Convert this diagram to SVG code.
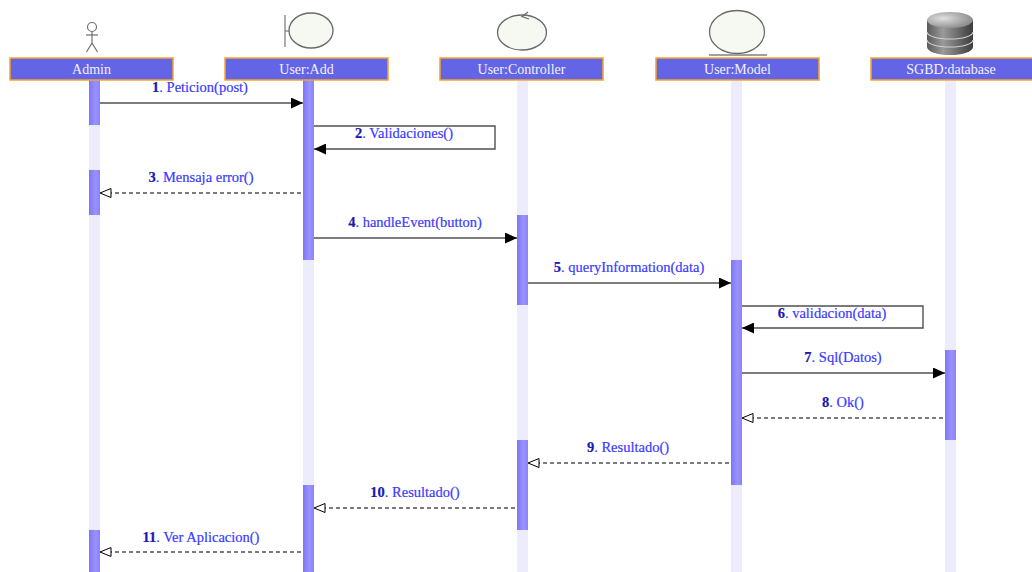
<svg xmlns="http://www.w3.org/2000/svg" width="1032" height="572" viewBox="0 0 1032 572">
<defs>
<style>
.hdr{fill:#6464e6;stroke:#f5a623;stroke-width:1.5}
.hdrt{font-family:'Liberation Serif','DejaVu Serif',serif;font-size:14px;fill:#f2f2ff;text-anchor:middle}
.lane{fill:#ececfc}
.act{fill:url(#ag)}
.msg{stroke:#505050;stroke-width:1.4;fill:none}
.ret{stroke:#505050;stroke-width:1.4;fill:none;stroke-dasharray:4,3}
.lbl{font-family:'Liberation Serif','DejaVu Serif',serif;font-size:14.5px;fill:#3a3aff;text-anchor:middle;stroke:#3a3aff;stroke-width:0.2}
.num{font-weight:bold;fill:#1a1ab0;stroke:#1a1ab0}
.ico{fill:#f6f9f2;stroke:#6a6a6a;stroke-width:1.3}
</style>
<linearGradient id="ag" x1="0" y1="0" x2="1" y2="0">
<stop offset="0" stop-color="#7f76f6"/>
<stop offset="0.6" stop-color="#9a92ff"/>
<stop offset="1" stop-color="#8a82fb"/>
</linearGradient>
<linearGradient id="dbg" x1="0" y1="0" x2="1" y2="0">
<stop offset="0" stop-color="#5a5a5a"/>
<stop offset="0.35" stop-color="#9a9a9a"/>
<stop offset="1" stop-color="#3c3c3c"/>
</linearGradient>
<radialGradient id="dbt" cx="0.35" cy="0.4" r="0.8">
<stop offset="0" stop-color="#e0e0e0"/>
<stop offset="1" stop-color="#7a7a7a"/>
</radialGradient>
<marker id="fa" markerWidth="13" markerHeight="11" refX="12" refY="5.5" orient="auto" markerUnits="userSpaceOnUse">
<path d="M0,0 L12,5.5 L0,11 Z" fill="#000"/>
</marker>
<marker id="oa" markerWidth="13" markerHeight="11" refX="12" refY="5.5" orient="auto" markerUnits="userSpaceOnUse">
<path d="M1,1 L12,5.5 L1,10 Z" fill="#fff" stroke="#000" stroke-width="1"/>
</marker>
</defs>
<rect width="1032" height="572" fill="#fff"/>

<g id="admin">
<rect class="lane" x="89" y="80" width="11" height="492"/>
<rect class="act" x="89" y="80" width="11" height="45"/>
<rect class="act" x="89" y="170" width="11" height="45"/>
<rect class="act" x="89" y="530" width="11" height="42"/>
<g fill="none" stroke="#707070" stroke-width="1.2">
<circle cx="92" cy="27" r="4.5"/>
<line x1="92" y1="31.5" x2="92" y2="43"/>
<line x1="86" y1="35" x2="98" y2="35"/>
<line x1="92" y1="43" x2="86.5" y2="52"/>
<line x1="92" y1="43" x2="97.5" y2="52"/>
</g>
<rect class="hdr" x="10" y="58" width="163" height="22"/>
<text class="hdrt" x="91.5" y="73.5" font-family="Liberation Serif, serif">Admin</text>
</g>

<g id="useradd">
<rect class="lane" x="303" y="80" width="11" height="492"/>
<rect class="act" x="303" y="80" width="11" height="180"/>
<rect class="act" x="303" y="485" width="11" height="87"/>
<line x1="285" y1="15" x2="285" y2="47" stroke="#808080" stroke-width="1.3"/>
<line x1="285" y1="31" x2="290" y2="31" stroke="#808080" stroke-width="1.3"/>
<ellipse class="ico" cx="311" cy="30.5" rx="22" ry="17.5" stroke="#909090"/>
<rect class="hdr" x="225" y="58" width="163" height="22"/>
<text class="hdrt" x="306.5" y="73.5" font-family="Liberation Serif, serif">User:Add</text>
</g>

<g id="usercontroller">
<rect class="lane" x="517" y="80" width="11" height="492"/>
<rect class="act" x="517" y="215" width="11" height="90"/>
<rect class="act" x="517" y="440" width="11" height="90"/>
<ellipse class="ico" cx="522" cy="32.5" rx="24.5" ry="17.5"/>
<path d="M528,12 L522,16.5 L529,19" fill="none" stroke="#6a6a6a" stroke-width="1.3"/>
<rect class="hdr" x="440" y="58" width="163" height="22"/>
<text class="hdrt" x="521.5" y="73.5" font-family="Liberation Serif, serif">User:Controller</text>
</g>

<g id="usermodel">
<rect class="lane" x="731" y="80" width="11" height="492"/>
<rect class="act" x="731" y="260" width="11" height="225"/>
<ellipse class="ico" cx="737" cy="32" rx="27.5" ry="21.5"/>
<line x1="709" y1="55" x2="767" y2="55" stroke="#808080" stroke-width="1.5"/>
<rect class="hdr" x="656" y="58" width="163" height="22"/>
<text class="hdrt" x="737.5" y="73.5" font-family="Liberation Serif, serif">User:Model</text>
</g>

<g id="sgbd">
<rect class="lane" x="945" y="80" width="11" height="492"/>
<rect class="act" x="945" y="350" width="11" height="90"/>
<path d="M927,20 L927,47 A23,8 0 0 0 973,47 L973,20 Z" fill="url(#dbg)"/>
<path d="M927,32 A23,7 0 0 0 973,32" fill="none" stroke="#cfcfcf" stroke-width="1.2"/>
<path d="M927,40 A23,7 0 0 0 973,40" fill="none" stroke="#cfcfcf" stroke-width="1.2"/>
<ellipse cx="950" cy="20" rx="23" ry="8" fill="url(#dbt)"/>
<rect class="hdr" x="871" y="58" width="163" height="22"/>
<text class="hdrt" x="951" y="73.5" font-family="Liberation Serif, serif">SGBD:database</text>
</g>

<g id="connectors">
<line class="msg" x1="100" y1="103" x2="303" y2="103" marker-end="url(#fa)"/>
<polyline class="msg" points="314,126 495,126 495,149 314,149" marker-end="url(#fa)"/>
<line class="ret" x1="301" y1="193" x2="100" y2="193" marker-end="url(#oa)"/>
<line class="msg" x1="314" y1="238" x2="517" y2="238" marker-end="url(#fa)"/>
<line class="msg" x1="528" y1="283" x2="731" y2="283" marker-end="url(#fa)"/>
<polyline class="msg" points="742,306 923,306 923,328 742,328" marker-end="url(#fa)"/>
<line class="msg" x1="742" y1="373" x2="945" y2="373" marker-end="url(#fa)"/>
<line class="ret" x1="943" y1="418" x2="742" y2="418" marker-end="url(#oa)"/>
<line class="ret" x1="729" y1="463" x2="528" y2="463" marker-end="url(#oa)"/>
<line class="ret" x1="515" y1="508" x2="314" y2="508" marker-end="url(#oa)"/>
<line class="ret" x1="301" y1="552" x2="100" y2="552" marker-end="url(#oa)"/>
</g>
<g id="labels" font-family="Liberation Serif, serif">
<text class="lbl" x="200" y="92"><tspan class="num">1</tspan>. Peticion(post)</text>
<text class="lbl" x="404" y="138"><tspan class="num">2</tspan>. Validaciones()</text>
<text class="lbl" x="201" y="182"><tspan class="num">3</tspan>. Mensaja error()</text>
<text class="lbl" x="415" y="227"><tspan class="num">4</tspan>. handleEvent(button)</text>
<text class="lbl" x="629" y="272"><tspan class="num">5</tspan>. queryInformation(data)</text>
<text class="lbl" x="832" y="318"><tspan class="num">6</tspan>. validacion(data)</text>
<text class="lbl" x="843" y="362"><tspan class="num">7</tspan>. Sql(Datos)</text>
<text class="lbl" x="843" y="407"><tspan class="num">8</tspan>. Ok()</text>
<text class="lbl" x="628" y="452"><tspan class="num">9</tspan>. Resultado()</text>
<text class="lbl" x="415" y="497"><tspan class="num">10</tspan>. Resultado()</text>
<text class="lbl" x="201" y="542"><tspan class="num">11</tspan>. Ver Aplicacion()</text>
</g>
</svg>
